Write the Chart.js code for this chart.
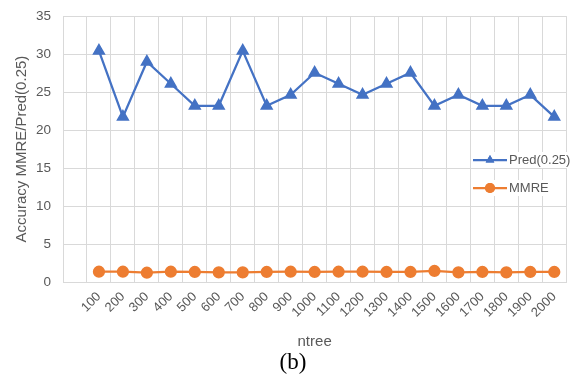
<!DOCTYPE html>
<html>
<head>
<meta charset="utf-8">
<script src="https://cdn.jsdelivr.net/npm/chart.js@4.4.0/dist/chart.umd.min.js"></script>
<style>
    html, body { margin: 0; padding: 0; background: #fff; overflow: hidden; }
    /* canvas a little larger than the window so the plot box lines up */
    #wrap { width: 574px; height: 380px; margin-top: -4px; }
</style>
</head>
<body>
<div id="wrap"><canvas id="accChart"></canvas></div>
<script>
// first category is left empty, as in the original sheet
const ntreeLabels = ['', '100', '200', '300', '400', '500', '600', '700', '800', '900', '1000',
    '1100', '1200', '1300', '1400', '1500', '1600', '1700', '1800', '1900', '2000'];
const predValues = [null, 30.43, 21.74, 28.99, 26.09, 23.19, 23.19, 30.43, 23.19, 24.64, 27.54,
    26.09, 24.64, 26.09, 27.54, 23.19, 24.64, 23.19, 23.19, 24.64, 21.74];
const mmreValues = [null, 1.35, 1.35, 1.22, 1.35, 1.32, 1.27, 1.27, 1.32, 1.35, 1.32,
    1.35, 1.35, 1.32, 1.32, 1.45, 1.27, 1.32, 1.27, 1.32, 1.32];
const yTicks = [0, 5, 10, 15, 20, 25, 30, 35];

const BLUE = '#4472C4';
const ORANGE = '#ED7D31';
const GRID = '#D9D9D9';
const TEXT = '#595959';
const FONT = "'Liberation Sans', Arial, sans-serif";

// Excel-like legend sitting inside the plot
const insideLegend = {
    id: 'insideLegend',
    afterDraw(chart) {
        const ctx = chart.ctx;
        const items = [
            { label: 'Pred(0.25)', color: BLUE, marker: 'triangle', y: 164 },
            { label: 'MMRE', color: ORANGE, marker: 'circle', y: 192 }
        ];
        ctx.save();
        ctx.font = '13px ' + FONT;
        ctx.textBaseline = 'middle';
        items.forEach(item => {
            const w = ctx.measureText(item.label).width;
            ctx.fillStyle = '#fff';
            ctx.fillRect(471, item.y - 8, 40 + w, 16);
            ctx.strokeStyle = item.color;
            ctx.lineWidth = 2.25;
            ctx.beginPath();
            ctx.moveTo(473, item.y);
            ctx.lineTo(507, item.y);
            ctx.stroke();
            ctx.fillStyle = item.color;
            Chart.helpers.drawPoint(ctx, { pointStyle: item.marker, radius: 5, rotation: 0 }, 490, item.y);
            ctx.fill();
            ctx.fillStyle = TEXT;
            ctx.fillText(item.label, 509, item.y);
        });
        ctx.restore();
    }
};

new Chart(document.getElementById('accChart'), {
    type: 'line',
    data: {
        labels: ntreeLabels,
        datasets: [{
            label: 'Pred(0.25)',
            data: predValues,
            borderColor: BLUE,
            backgroundColor: BLUE,
            borderWidth: 2.25,
            pointStyle: 'triangle',
            pointRadius: 5.5,
            pointHoverRadius: 5.5,
            tension: 0
        }, {
            label: 'MMRE',
            data: mmreValues,
            borderColor: ORANGE,
            backgroundColor: ORANGE,
            borderWidth: 2.25,
            pointStyle: 'circle',
            pointRadius: 5,
            pointHoverRadius: 5,
            tension: 0
        }]
    },
    options: {
        responsive: true,
        maintainAspectRatio: false,
        animation: false,
        layout: {
            padding: { left: 13, right: 1, top: 9, bottom: 0 }
        },
        scales: {
            x: {
                offset: true,
                grid: {
                    color: GRID,
                    lineWidth: 1,
                    offset: true,
                    drawTicks: false
                },
                border: { color: GRID },
                ticks: {
                    color: TEXT,
                    autoSkip: false,
                    minRotation: 45,
                    maxRotation: 45,
                    padding: 7,
                    font: { family: FONT, size: 13 }
                },
                title: {
                    display: true,
                    text: 'ntree',
                    color: TEXT,
                    padding: { top: 0, bottom: 0 },
                    font: { family: FONT, size: 15 }
                },
                afterFit: scale => { scale.height = 68.7; }
            },
            y: {
                min: 0,
                max: 35,
                afterBuildTicks: scale => {
                    scale.ticks = yTicks.map(v => ({ value: v }));
                },
                grid: {
                    color: GRID,
                    lineWidth: 1,
                    drawTicks: false
                },
                border: { color: GRID },
                ticks: {
                    color: TEXT,
                    padding: 12,
                    font: { family: FONT, size: 13.5 }
                },
                title: {
                    display: true,
                    text: 'Accuracy MMRE/Pred(0.25)',
                    color: TEXT,
                    padding: { top: 0, bottom: 0 },
                    font: { family: FONT, size: 15 }
                },
                afterFit: scale => { scale.width = 50; }
            }
        },
        plugins: {
            legend: { display: false },
            tooltip: { enabled: false },
            title: {
                display: true,
                position: 'bottom',
                text: '(b)',
                color: '#000',
                padding: { top: 0, bottom: 0 },
                font: { family: "'Liberation Serif', 'Times New Roman', serif", size: 23, weight: 'normal', lineHeight: 1.1 }
            }
        }
    },
    plugins: [insideLegend]
});
</script>
</body>
</html>
